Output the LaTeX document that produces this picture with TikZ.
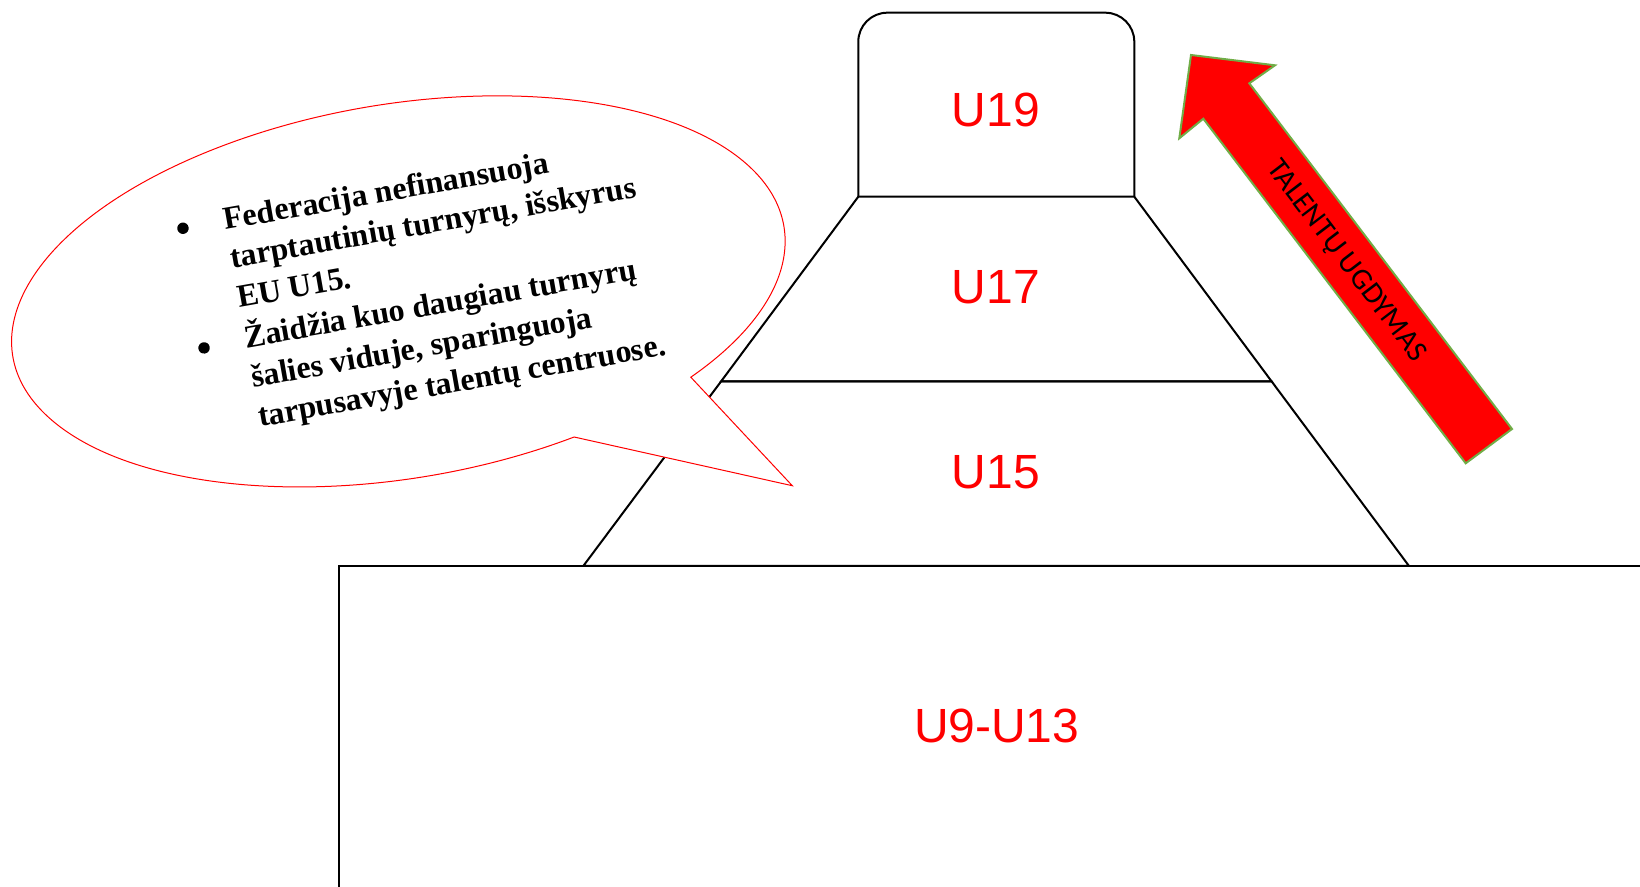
\documentclass[tikz,border=0pt]{standalone}
\usepackage{fontspec}
\newfontfamily\tnr{Liberation Serif}
\newfontfamily\arialf{Liberation Sans}
\newfontfamily\calib{Carlito}
\definecolor{arrowgreen}{HTML}{70AD47}
\begin{document}
\begin{tikzpicture}[x=0.5pt,y=-0.5pt,
  edge/.style={draw=black,line width=1pt,line join=miter},
  agelabel/.style={text=red,font=\arialf\fontsize{24}{28}\selectfont,inner sep=0pt},
  bubbletext/.style={font=\tnr\bfseries\fontsize{16}{20}\selectfont,anchor=base west,inner sep=0pt},
  bubble/.style={draw=red,line width=0.5pt,fill=white},
  bigarrow/.style={fill=red,draw=arrowgreen,line width=1pt,line join=miter},
  arrowtext/.style={font=\calib\fontsize{15}{18}\selectfont,text=black,inner sep=0pt},
]
\useasboundingbox (0,0) rectangle (1640,887);

% corner points of the levels
\coordinate (t19l) at (858.3,12.7);
\coordinate (t19r) at (1134.3,12.7);
\coordinate (b19l) at (858.3,196.7);
\coordinate (b19r) at (1134.3,196.7);
\coordinate (b17l) at (721,381.5);
\coordinate (b17r) at (1271.7,381.5);
\coordinate (b15l) at (583.3,566);
\coordinate (b15r) at (1409,566);
\coordinate (baseL) at (339,566);
\coordinate (baseR) at (1700,566);
\coordinate (baseB) at (339,1000);

% base block, running past the page edges
\begin{scope}
  \clip (0,0) rectangle (1640,887);
  \draw[edge] (baseB) -- (baseL) -- (baseR);
\end{scope}

% U15 and U17 trapezoids
\draw[edge] (b17l) -- (b15l) -- (b15r) -- (b17r) -- cycle;
\draw[edge] (b19l) -- (b17l) -- (b17r) -- (b19r) -- cycle;

% U19 block with rounded top
\draw[edge,rounded corners=14.5pt] (b19l) -- (t19l) -- (t19r) -- (b19r);

% level labels
\node[agelabel] (u19) at (995.7,109.8) {U19};
\node[agelabel] (u17) at (995.7,287.6) {U17};
\node[agelabel] (u15) at (995.7,472.7) {U15};
\node[agelabel] (u913) at (996.7,726.2) {U9-U13};

% speech bubble (tilted ellipse callout)
\begin{scope}[shift={(398.4,291.4)},rotate=9.6]
  \draw[bubble] (67.6:391 and 187) arc[start angle=67.6,end angle=405.5,x radius=391,y radius=187]
    -- (356,257.3) -- cycle;
\end{scope}

% bubble text
\begin{scope}[shift={(224.9,230)},rotate=10,transform shape]
  \fill (-41,-9) circle (5.7);
  \fill (-41,112.5) circle (5.7);
  \node[bubbletext] (l1) at (0,0) {Federacija nefinansuoja};
  \node[bubbletext] (l2) at (0,39) {tarptautinių turnyrų, išskyrus};
  \node[bubbletext] (l3) at (0,79) {EU U15.};
  \node[bubbletext] (l4) at (0,120) {Žaidžia kuo daugiau turnyrų};
  \node[bubbletext] (l5) at (0,160) {šalies viduje, sparinguoja};
  \node[bubbletext] (l6) at (0,200) {tarpusavyje talentų centruose.};
\end{scope}

% talent development arrow
\coordinate (atip) at (1191,55);
\coordinate (arw) at (1275,65.3);
\coordinate (arn) at (1249.3,83.3);
\coordinate (atr) at (1512,429);
\coordinate (atl) at (1465.7,463.3);
\coordinate (aln) at (1203.3,118.7);
\coordinate (alw) at (1179.3,138.3);
\draw[bigarrow] (atip) -- (arw) -- (arn) -- (atr) -- (atl) -- (aln) -- (alw) -- cycle;
\node[arrowtext,rotate=-52.7] (talent) at (1346,261.5) {TALENTŲ UGDYMAS};

\end{tikzpicture}
\end{document}
